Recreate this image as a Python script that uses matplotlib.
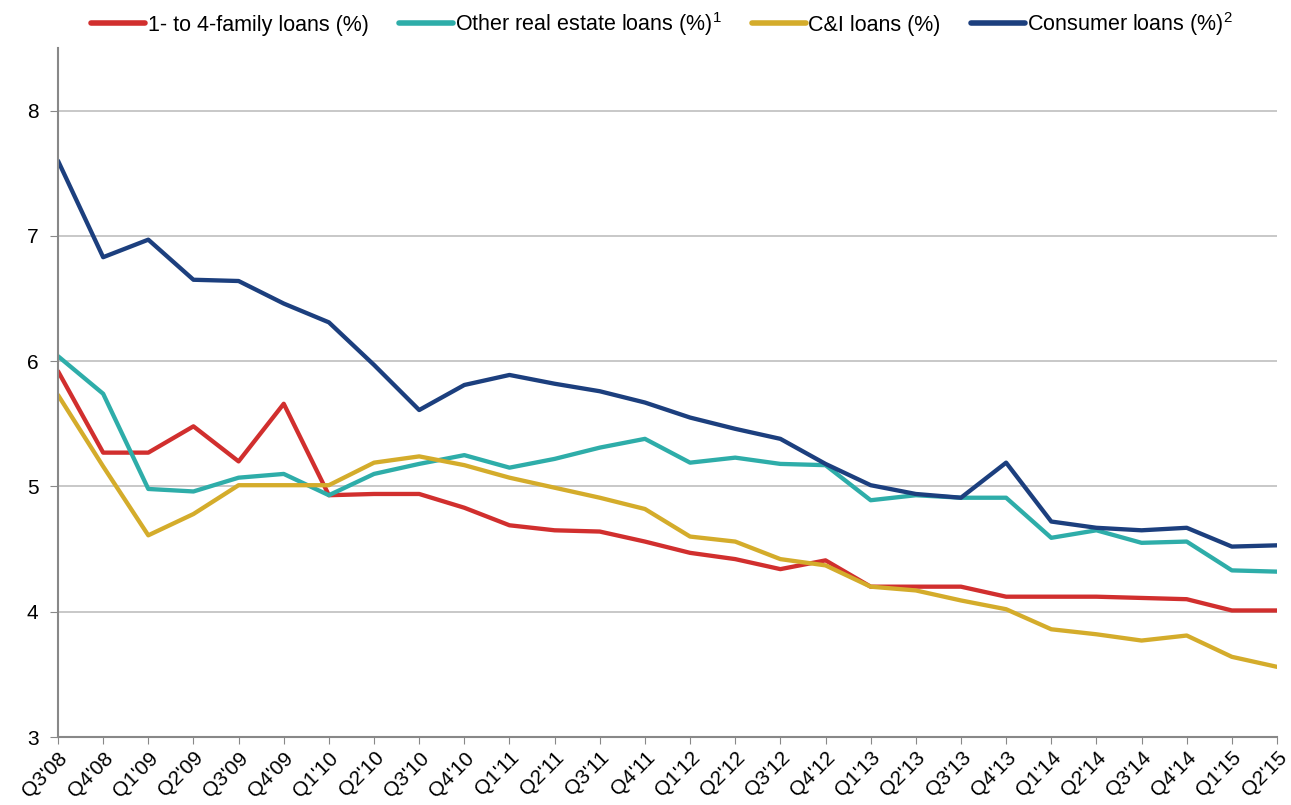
import matplotlib
matplotlib.use("Agg")
import matplotlib.pyplot as plt

quarters = ["Q3'08", "Q4'08", "Q1'09", "Q2'09", "Q3'09", "Q4'09", "Q1'10", "Q2'10",
            "Q3'10", "Q4'10", "Q1'11", "Q2'11", "Q3'11", "Q4'11", "Q1'12", "Q2'12",
            "Q3'12", "Q4'12", "Q1'13", "Q2'13", "Q3'13", "Q4'13", "Q1'14", "Q2'14",
            "Q3'14", "Q4'14", "Q1'15", "Q2'15"]

family_1_4 = [5.92, 5.27, 5.27, 5.48, 5.20, 5.66, 4.93, 4.94, 4.94, 4.83, 4.69, 4.65,
              4.64, 4.56, 4.47, 4.42, 4.34, 4.41, 4.20, 4.20, 4.20, 4.12, 4.12, 4.12,
              4.11, 4.10, 4.01, 4.01]
other_re = [6.04, 5.74, 4.98, 4.96, 5.07, 5.10, 4.93, 5.10, 5.18, 5.25, 5.15, 5.22,
            5.31, 5.38, 5.19, 5.23, 5.18, 5.17, 4.89, 4.93, 4.91, 4.91, 4.59, 4.65,
            4.55, 4.56, 4.33, 4.32]
cni = [5.73, 5.16, 4.61, 4.78, 5.01, 5.01, 5.01, 5.19, 5.24, 5.17, 5.07, 4.99,
       4.91, 4.82, 4.60, 4.56, 4.42, 4.37, 4.20, 4.17, 4.09, 4.02, 3.86, 3.82,
       3.77, 3.81, 3.64, 3.56]
consumer = [7.60, 6.83, 6.97, 6.65, 6.64, 6.46, 6.31, 5.97, 5.61, 5.81, 5.89, 5.82,
            5.76, 5.67, 5.55, 5.46, 5.38, 5.18, 5.01, 4.94, 4.91, 5.19, 4.72, 4.67,
            4.65, 4.67, 4.52, 4.53]

series = [
    ("1- to 4-family loans (%)", family_1_4, "#D12F2E"),
    ("Other real estate loans (%)$^{1}$", other_re, "#2EADA9"),
    ("C&I loans (%)", cni, "#D4AC2B"),
    ("Consumer loans (%)$^{2}$", consumer, "#1C3F7E"),
]

plt.rcParams['font.family'] = ['Liberation Sans', 'DejaVu Sans']
plt.rcParams['mathtext.fontset'] = 'custom'
plt.rcParams['mathtext.rm'] = 'Liberation Sans'
plt.rcParams['mathtext.it'] = 'Liberation Sans'

fig = plt.figure(figsize=(12.91, 8.05), dpi=100)
ax = fig.add_axes([58/1291, 1 - 737/805, (1277-58)/1291, (737-48)/805])

x = list(range(len(quarters)))
for label, vals, color in series:
    ax.plot(x, vals, color=color, lw=3.1, label=label, solid_capstyle='round')

ax.set_xlim(0, len(quarters) - 1)
ax.set_ylim(3, 8.5)
ax.set_yticks([3, 4, 5, 6, 7, 8])
ax.set_xticks(x)
ax.set_xticklabels(quarters, rotation=45, ha='right', rotation_mode='anchor')
ax.tick_params(axis='x', labelsize=15, length=5, color='#888888', pad=3)
ax.tick_params(axis='y', labelsize=15, length=6, color='#888888', pad=8)
ax.grid(axis='y', color='#BFBFBF', lw=1.2)
ax.set_axisbelow(True)
for s in ['top', 'right']:
    ax.spines[s].set_visible(False)
for s in ['left', 'bottom']:
    ax.spines[s].set_color('#888888')
    ax.spines[s].set_linewidth(1.5)

leg = fig.legend(loc='upper center', bbox_to_anchor=(0.513, 1.012), ncol=4, frameon=False,
                 fontsize=15.5, handlelength=2.5, handletextpad=0.12, columnspacing=1.4)
for line in leg.get_lines():
    line.set_linewidth(4)

fig.savefig("out.png", dpi=100)
